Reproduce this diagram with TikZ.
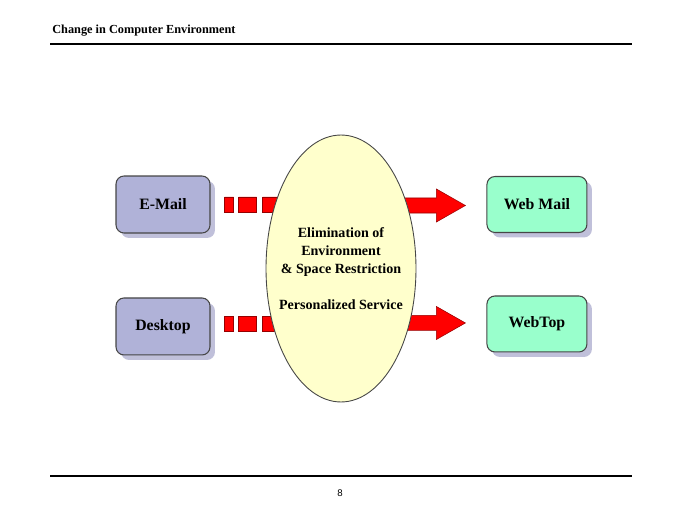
\documentclass[tikz,border=0pt]{standalone}
\usepackage{fontspec}
\setmainfont{Liberation Serif}
\newfontfamily\pagefont{Liberation Sans}
\usetikzlibrary{positioning,shapes.geometric,shadows}
\definecolor{mailblue}{RGB}{176,178,216}
\definecolor{webgreen}{RGB}{153,255,204}
\definecolor{boxshade}{RGB}{192,192,218}
\definecolor{ovalyellow}{RGB}{255,255,204}
\definecolor{edgegray}{RGB}{70,70,70}
\definecolor{arrowred}{RGB}{255,0,0}
\definecolor{darkred}{RGB}{150,0,0}

\begin{document}
\begin{tikzpicture} [x=0.02cm, y=-0.02cm, node distance=2.44cm,
    oldbox/.style={rectangle,rounded corners=0.16cm,draw=edgegray,line width=0.6pt,fill=mailblue,
        minimum width=1.88cm,minimum height=1.14cm,font=\fontsize{9}{11}\selectfont\bfseries,
        general shadow={fill=boxshade,shadow xshift=0.1cm,shadow yshift=-0.1cm}},
    newbox/.style={oldbox,fill=webgreen,minimum width=2cm,minimum height=1.12cm},
    redbar/.style={fill=arrowred,draw=darkred,line width=0.3pt},
    oval/.style={ellipse,draw=edgegray,line width=0.5pt,fill=ovalyellow,minimum width=3cm,
        minimum height=5.34cm,inner sep=0pt},
    ovaltext/.style={align=center,font=\fontsize{8}{10.2}\selectfont\bfseries}]

\useasboundingbox (0,0) rectangle (680,510);

\node[anchor=base west,inner sep=0pt,font=\fontsize{7}{8}\selectfont\bfseries] (title) at (52,34) {Change in Computer Environment};
\draw[line width=1.1pt] (50,44) -- (632,44);

\node[oldbox] (email) at (163,204.5) {E-Mail};
\node[oldbox] (desk) [below of=email] {Desktop};
\node[newbox] (wmail) [right of=email, node distance=7.48cm] {Web Mail};
\node[newbox] (wtop) [below of=wmail, node distance=2.39cm] {WebTop};

% dashed bars into the oval
\path[redbar] (email.east |- wmail.west) ++(14,-7.5) rectangle ++(9,15)
    ++(5,-15) rectangle ++(18,15)
    ++(6,-15) rectangle ++(45,15);
\path[redbar] (desk.east |- wtop.west) ++(14,-7.5) rectangle ++(9,15)
    ++(5,-15) rectangle ++(18,15)
    ++(6,-15) rectangle ++(45,15);

% arrows out of the oval
\draw[redbar] (wmail.west) ++(-21,1) -- ++(-29,-16.5) -- ++(0,9) -- ++(-40,0)
    -- ++(0,15) -- ++(40,0) -- ++(0,9) -- cycle;
\draw[redbar] (wtop.west) ++(-21,-1) -- ++(-29,-16.5) -- ++(0,9) -- ++(-40,0)
    -- ++(0,15) -- ++(40,0) -- ++(0,9) -- cycle;

\node[oval] (elli) at (341,268.5) {};
\node[ovaltext] (ellitext) at (elli.center) {Elimination of\\Environment\\\& Space Restriction\\[10.2pt]Personalized Service};

\draw[line width=1.1pt] (50,476) -- (632,476);
\node[font=\pagefont\fontsize{5.5}{6}\selectfont] (pnum) at (340,493) {8};
\end{tikzpicture}
\end{document}
